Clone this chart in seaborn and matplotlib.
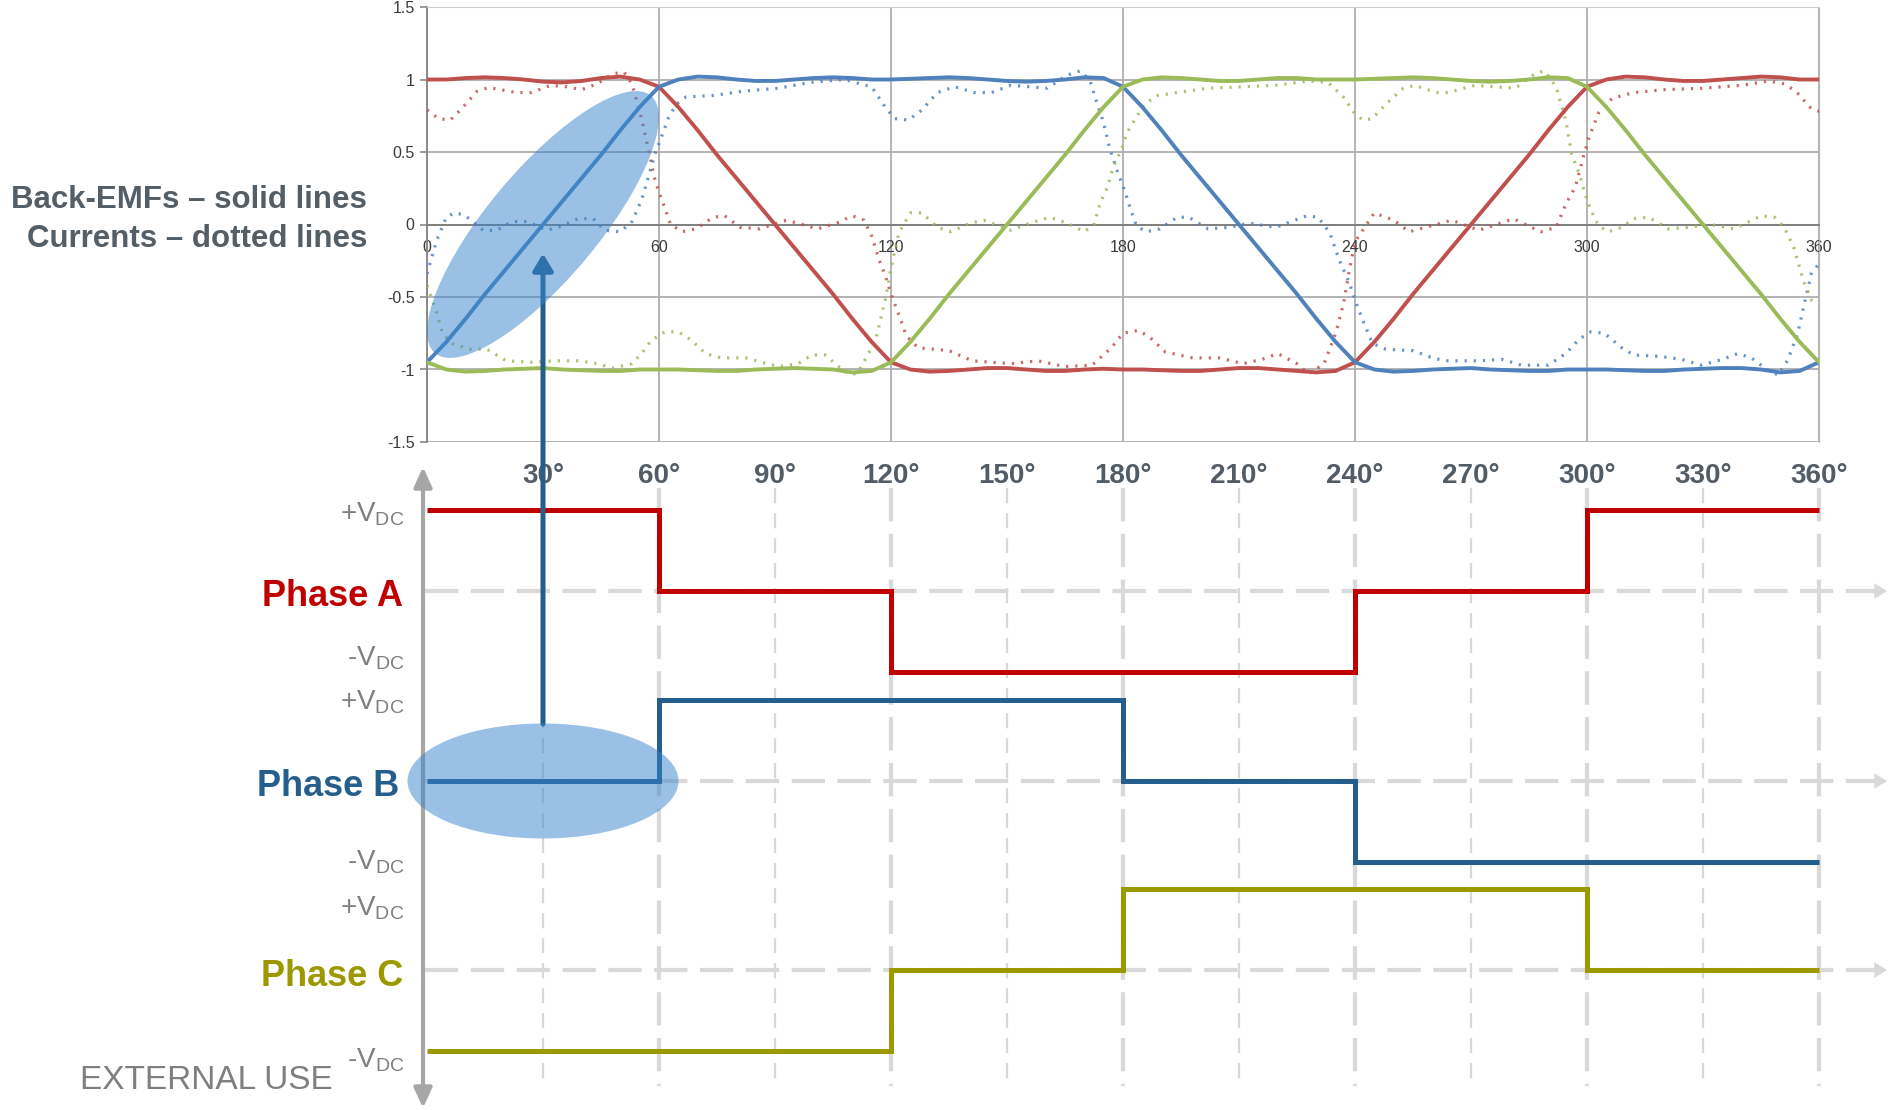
import numpy as np
import matplotlib
matplotlib.use("Agg")
import matplotlib.pyplot as plt
from matplotlib.patches import Ellipse
import seaborn as sns

sns.set_style("white")
plt.rcParams["font.family"] = ["Liberation Sans", "DejaVu Sans"]
plt.rcParams["mathtext.default"] = "regular"
plt.rcParams["lines.scale_dashes"] = False

# ---------------- data ----------------
# back-EMF samples every 5 degrees (0..360)
emf_angles = np.arange(0, 361, 5)
emf_a = [1.00, 1.00, 1.01, 1.015, 1.01, 1.00, 0.985, 0.98, 0.99, 1.01, 1.02, 1.00,
         0.95, 0.81, 0.65, 0.48, 0.32, 0.16, 0.00, -0.16, -0.32, -0.48, -0.65, -0.81,
         -0.95, -1.00, -1.015, -1.01, -1.00, -0.99, -0.99, -1.00, -1.01, -1.01, -1.00, -0.995,
         -1.00, -1.00, -1.005, -1.01, -1.01, -1.00, -0.99, -0.99, -1.00, -1.01, -1.02, -1.01,
         -0.95, -0.81, -0.65, -0.48, -0.32, -0.16, 0.00, 0.16, 0.32, 0.48, 0.65, 0.81,
         0.95, 1.00, 1.02, 1.015, 1.00, 0.99, 0.99, 1.00, 1.01, 1.02, 1.015, 1.00,
         1.00]
emf_b = [-0.95, -0.81, -0.65, -0.48, -0.32, -0.16, 0.00, 0.16, 0.32, 0.48, 0.65, 0.81,
         0.95, 1.00, 1.02, 1.015, 1.00, 0.99, 0.99, 1.00, 1.01, 1.015, 1.01, 1.00,
         1.00, 1.005, 1.01, 1.015, 1.01, 1.00, 0.99, 0.985, 0.99, 1.00, 1.015, 1.01,
         0.95, 0.81, 0.65, 0.48, 0.32, 0.16, 0.00, -0.16, -0.32, -0.48, -0.65, -0.81,
         -0.95, -1.00, -1.015, -1.01, -1.00, -0.995, -0.99, -1.00, -1.005, -1.01, -1.01, -1.00,
         -1.00, -1.00, -1.005, -1.01, -1.01, -1.00, -0.995, -0.99, -0.99, -1.00, -1.02, -1.01,
         -0.95]
emf_c = [-0.95, -1.00, -1.015, -1.01, -1.00, -0.995, -0.99, -1.00, -1.005, -1.01, -1.01, -1.00,
         -1.00, -1.00, -1.005, -1.01, -1.01, -1.00, -0.995, -0.99, -0.995, -1.00, -1.02, -1.01,
         -0.95, -0.81, -0.65, -0.48, -0.32, -0.16, 0.00, 0.16, 0.32, 0.48, 0.65, 0.81,
         0.95, 1.00, 1.015, 1.01, 1.00, 0.99, 0.99, 1.00, 1.01, 1.01, 1.00, 1.00,
         1.00, 1.005, 1.01, 1.015, 1.01, 1.00, 0.99, 0.985, 0.99, 1.00, 1.015, 1.01,
         0.95, 0.81, 0.65, 0.48, 0.32, 0.16, 0.00, -0.16, -0.32, -0.48, -0.65, -0.81,
         -0.95]

# phase currents
cur_a_deg = [0, 3, 6, 9, 13, 16, 19, 23, 27, 32, 36, 40, 44, 48, 51, 53, 55.5, 57.5, 59, 61,
             63, 66, 69.5, 74, 77, 81, 86, 93, 101, 106, 110, 113, 115, 117, 118.5, 120, 122, 124, 127, 131,
             135, 141, 146, 151, 158, 165, 172, 177, 180, 184, 187, 191, 198, 205, 211, 216, 220, 225, 228, 232,
             235, 237, 238.5, 240, 242, 245, 250, 254, 261, 265, 272, 281, 288, 292, 294.5, 297, 299, 300.5, 303, 306.5,
             312, 320, 330, 340, 347, 351, 354, 358, 360]
cur_a = [0.79, 0.73, 0.72, 0.80, 0.92, 0.945, 0.93, 0.91, 0.91, 0.96, 0.95, 0.93, 0.97, 1.04, 1.05, 0.97, 0.73, 0.49, 0.30, 0.15,
         0.00, -0.05, -0.03, 0.05, 0.06, -0.02, -0.03, 0.03, -0.03, 0.01, 0.06, 0.03, -0.08, -0.25, -0.35, -0.48, -0.62, -0.77, -0.85, -0.86,
         -0.87, -0.94, -0.95, -0.96, -0.94, -0.98, -0.97, -0.85, -0.75, -0.73, -0.78, -0.88, -0.92, -0.92, -0.96, -0.93, -0.89, -0.96, -1.03, -0.96,
         -0.75, -0.55, -0.32, -0.12, -0.04, 0.08, 0.03, -0.05, 0.00, 0.03, -0.04, 0.04, -0.05, -0.02, 0.14, 0.26, 0.46, 0.60, 0.77, 0.87,
         0.91, 0.93, 0.94, 0.96, 0.99, 0.97, 0.92, 0.80, 0.78]

cur_b_deg = [0, 2.5, 5, 7, 9, 11, 14.5, 18, 22, 26, 31, 35, 39, 43, 46, 50, 53, 55.5, 57.5, 59,
             61, 62.5, 64.5, 67, 74, 82, 91, 99, 108, 112, 115, 118.5, 121, 124.5, 128, 132, 136.5, 141.5, 146, 151,
             156, 160.5, 165.5, 169, 171.5, 173, 175, 176.5, 178.5, 180.5, 182, 183.5, 186, 189.5, 194, 197, 202, 207.5, 212.5, 219.5,
             227.5, 230.5, 233.5, 236, 238.5, 240, 242, 244.5, 248, 255, 260, 263.5, 272, 278, 283, 290, 294.5, 298, 301, 304.5,
             309, 312, 319, 324.5, 329.5, 335, 339, 342.5, 346.5, 349.5, 352, 354.5, 356, 358, 360]
cur_b = [-0.34, -0.11, 0.05, 0.08, 0.07, 0.04, -0.04, -0.04, 0.02, 0.02, -0.04, -0.01, 0.04, 0.04, -0.04, -0.05, 0.02, 0.17, 0.35, 0.49,
         0.63, 0.74, 0.83, 0.88, 0.89, 0.92, 0.94, 0.98, 1.00, 0.97, 0.95, 0.81, 0.73, 0.72, 0.79, 0.91, 0.95, 0.91, 0.91, 0.96,
         0.95, 0.94, 1.03, 1.06, 0.99, 0.86, 0.70, 0.53, 0.37, 0.23, 0.10, -0.01, -0.05, -0.03, 0.05, 0.05, -0.03, -0.02, 0.01, -0.02,
         0.06, 0.05, -0.06, -0.25, -0.40, -0.52, -0.66, -0.82, -0.86, -0.87, -0.92, -0.94, -0.94, -0.93, -0.97, -0.97, -0.89, -0.79, -0.74, -0.75,
         -0.85, -0.90, -0.91, -0.93, -0.97, -0.93, -0.89, -0.92, -1.00, -1.04, -0.93, -0.75, -0.57, -0.34, -0.27]

cur_c_deg = [0, 2.5, 4, 6.5, 11, 15.5, 20.5, 27, 33.5, 39.5, 44, 48, 53, 55.5, 58, 61.5, 65, 68.5, 72, 76,
             82.5, 86.5, 91, 96, 99.5, 103, 106, 109.5, 111.5, 116, 118.5, 120, 122, 125, 128, 132, 135.5, 140.5, 144, 151,
             156, 161, 165.5, 170, 172.5, 174, 176, 177.5, 179.5, 181, 183, 185.5, 189, 194, 202, 211, 219.5, 228, 233, 237,
             239.5, 242, 244.5, 248, 252.5, 255.5, 261, 264, 271, 276, 281.5, 286.5, 289, 292, 294.5, 296, 298, 299.5, 301, 303,
             305.5, 309, 312, 316, 321, 326, 332, 338, 345, 348.5, 351, 353.5, 356, 358, 360]
cur_c = [-0.42, -0.61, -0.75, -0.82, -0.86, -0.86, -0.94, -0.95, -0.94, -0.94, -0.96, -0.99, -0.96, -0.89, -0.80, -0.74, -0.74, -0.80, -0.89, -0.92,
         -0.92, -0.95, -0.98, -0.96, -0.90, -0.90, -0.97, -1.04, -1.02, -0.80, -0.52, -0.30, -0.06, 0.08, 0.08, -0.02, -0.05, 0.01, 0.03, -0.04,
         0.01, 0.05, 0.01, -0.05, 0.00, 0.14, 0.26, 0.40, 0.51, 0.63, 0.72, 0.83, 0.89, 0.91, 0.94, 0.95, 0.96, 0.99, 0.98, 0.88,
         0.78, 0.72, 0.73, 0.83, 0.94, 0.96, 0.91, 0.91, 0.96, 0.95, 0.94, 1.04, 1.06, 0.95, 0.72, 0.49, 0.35, 0.21, 0.10, -0.01,
         -0.05, -0.02, 0.04, 0.05, -0.03, -0.02, 0.00, -0.03, 0.06, 0.05, -0.02, -0.16, -0.39, -0.52, -0.55]

# six-step drive states (+1 = +VDC, 0 = floating, -1 = -VDC)
step_angles = [0, 60, 120, 180, 240, 300, 360]
phase_a = [1, 0, -1, -1, 0, 1, 1]
phase_b = [0, 1, 1, 0, -1, -1, -1]
phase_c = [-1, -1, 0, 1, 1, 0, 0]

phase_names = ["Phase A", "Phase B", "Phase C"]
degree_ticks = list(range(30, 361, 30))
degree_labels = [f"{d}°" for d in degree_ticks]
top_xticks = list(range(0, 361, 60))
top_yticks = [-1.5, -1.0, -0.5, 0.0, 0.5, 1.0, 1.5]
top_ylabels = ["-1.5", "-1", "-0.5", "0", "0.5", "1", "1.5"]

# ---------------- figure ----------------
W, H, DPI = 1888, 1110, 100
X0, XW = 427, 1392          # pixel column of 0 deg, pixel width of 360 deg
fig = plt.figure(figsize=(W / DPI, H / DPI), dpi=DPI)
fig.patch.set_facecolor("white")

ax_top = fig.add_axes([X0 / W, 1 - 442 / H, XW / W, 435 / H])
ax_bot = fig.add_axes([X0 / W, 0, XW / W, 640 / H])
ov = fig.add_axes([0, 0, 1, 1], zorder=10)
ov.set_xlim(0, W)
ov.set_ylim(0, H)
ov.axis("off")
ov.patch.set_alpha(0)

# ---------------- top: back-EMFs and currents ----------------
emf_colors = ["#C0504D", "#4F81BD", "#9BBB59"]
for vals, col in zip([emf_a, emf_b, emf_c], emf_colors):
    sns.lineplot(x=emf_angles, y=vals, ax=ax_top, color=col, lw=2.8, zorder=4)
for deg, vals, col in zip([cur_a_deg, cur_b_deg, cur_c_deg], [cur_a, cur_b, cur_c], emf_colors):
    sns.lineplot(x=deg, y=vals, ax=ax_top, color=col, lw=2.3, linestyle=(0, (1.6, 5.0)),
                 alpha=0.85, zorder=3)

ax_top.set_xlim(0, 360)
ax_top.set_ylim(-1.5, 1.5)
ax_top.set_xticks(top_xticks)
ax_top.set_xticklabels([str(t) for t in top_xticks])
ax_top.set_yticks(top_yticks)
ax_top.set_yticklabels(top_ylabels)
ax_top.grid(True, color="#AEAEAE", lw=1.3)
ax_top.set_axisbelow(True)
ax_top.spines["bottom"].set_position(("data", 0))
ax_top.spines["bottom"].set_color("#808080")
ax_top.spines["bottom"].set_linewidth(1.4)
ax_top.spines["left"].set_color("#8A8A8A")
ax_top.spines["left"].set_linewidth(1.4)
ax_top.spines["right"].set_color("#B5B5B5")
ax_top.spines["top"].set_color("#CFCFCF")
ax_top.tick_params(axis="x", length=0, pad=11, labelsize=11.5, labelcolor="#3A3A3A")
ax_top.tick_params(axis="y", left=True, length=5, width=1.2, color="#8A8A8A",
                   labelsize=11.5, labelcolor="#3A3A3A", pad=4)
ax_top.set_xlabel("")
ax_top.set_ylabel("")

fig.text(367 / W, 1 - 208 / H, "Back-EMFs – solid lines", ha="right", va="baseline",
         fontsize=22.5, fontweight="bold", color="#545E67")
fig.text(367 / W, 1 - 247 / H, "Currents – dotted lines", ha="right", va="baseline",
         fontsize=22.5, fontweight="bold", color="#545E67")

# ---------------- bottom: switching waveforms ----------------
UNIT = 81.0            # pixels per VDC step
ZERO_A = 591.0         # pixel row of phase A floating level
lane = [0.0, -190.0 / UNIT, -379.0 / UNIT]
ax_bot.set_xlim(0, 360)
ax_bot.set_ylim(-(H - ZERO_A) / UNIT, (ZERO_A - 470) / UNIT)
ax_bot.axis("off")


def py(p):
    """pixel row -> lower-axes y"""
    return (ZERO_A - p) / UNIT


def px(p):
    """pixel column -> lower-axes x (degrees)"""
    return (p - X0) * 360.0 / XW


grid_col = "#D9D9D9"
for d in degree_ticks:
    major = d % 60 == 0
    ax_bot.plot([d, d], [py(488), py(1086)], color=grid_col,
                lw=3.0 if major else 1.6,
                dashes=(24, 9) if major else (11, 7), zorder=1, clip_on=False)
for off in lane:
    ax_bot.plot([px(425), px(1876)], [off, off], color=grid_col, lw=3.0, dashes=(24, 9),
                zorder=1, clip_on=False)

step_colors = ["#C00000", "#245E8C", "#9C9900"]
for vals, off, col in zip([phase_a, phase_b, phase_c], lane, step_colors):
    sns.lineplot(x=step_angles, y=np.array(vals) + off, ax=ax_bot, color=col, lw=3.6,
                 drawstyle="steps-post", zorder=3)
    for ln in ax_bot.lines[-1:]:
        ln.set_clip_on(False)
        ln.set_solid_joinstyle("miter")
        ln.set_solid_capstyle("butt")

for d, lab in zip(degree_ticks, degree_labels):
    ax_bot.text(d, py(476), lab, ha="center", va="center", fontsize=20, fontweight="bold",
                color="#525C66", clip_on=False)

label_colors = ["#C00000", "#245E8C", "#9C9900"]
name_pos = [(403, 597), (399, 786), (403, 976)]
for name, col, (x, y) in zip(phase_names, label_colors, name_pos):
    fig.text(x / W, 1 - y / H, name, ha="right", va="center", fontsize=26,
             fontweight="bold", color=col)

vdc_rows = [(521, "+"), (666, "-"), (710, "+"), (870, "-"), (915, "+"), (1068, "-")]
for y, sign in vdc_rows:
    fig.text(404 / W, 1 - y / H, sign + r"V$_{DC}$", ha="right", va="baseline",
             fontsize=20, color="#7F7F7F")

fig.text(80 / W, 1 - 1089 / H, "EXTERNAL USE", ha="left", va="baseline", fontsize=24,
         color="#7F7F7F")


# ---------------- overlay: axis arrows, highlight ellipses, pointer ----------------
def disp(ax, x, y):
    return tuple(ax.transData.transform((x, y)))


# vertical axis with arrowheads at both ends
ov.annotate("", xy=(423, H - 467), xytext=(423, H - 1108),
            arrowprops=dict(arrowstyle="<|-|>,head_length=1.2,head_width=0.55",
                            color="#A6A6A6", lw=3.0, mutation_scale=10,
                            shrinkA=0, shrinkB=0), zorder=1)
# arrowheads on the floating-level lines
for off in lane:
    x1, y1 = disp(ax_bot, px(1887), off)
    ov.annotate("", xy=(x1, y1), xytext=(x1 - 13, y1),
                arrowprops=dict(arrowstyle="-|>,head_length=0.9,head_width=0.55",
                                color=grid_col, lw=0.1, mutation_scale=10,
                                shrinkA=0, shrinkB=0), zorder=1)

c1 = disp(ax_top, 30, 0)
c2 = disp(ax_bot, 30, lane[1])
tip = disp(ax_top, 30, -0.20)

ov.annotate("", xy=tip, xytext=(c2[0], c2[1] + 57),
            arrowprops=dict(arrowstyle="-|>,head_length=1.0,head_width=0.6",
                            color="#255E8A", lw=3.6, mutation_scale=10,
                            shrinkA=0, shrinkB=0), zorder=2)

ov.add_patch(Ellipse(c1, width=336, height=110, angle=50, facecolor="#3785CC",
                     alpha=0.5, edgecolor="none", zorder=3))
ov.add_patch(Ellipse(c2, width=271, height=115, angle=0, facecolor="#3785CC",
                     alpha=0.5, edgecolor="none", zorder=3))

fig.savefig("out.png", dpi=DPI, facecolor="white")
